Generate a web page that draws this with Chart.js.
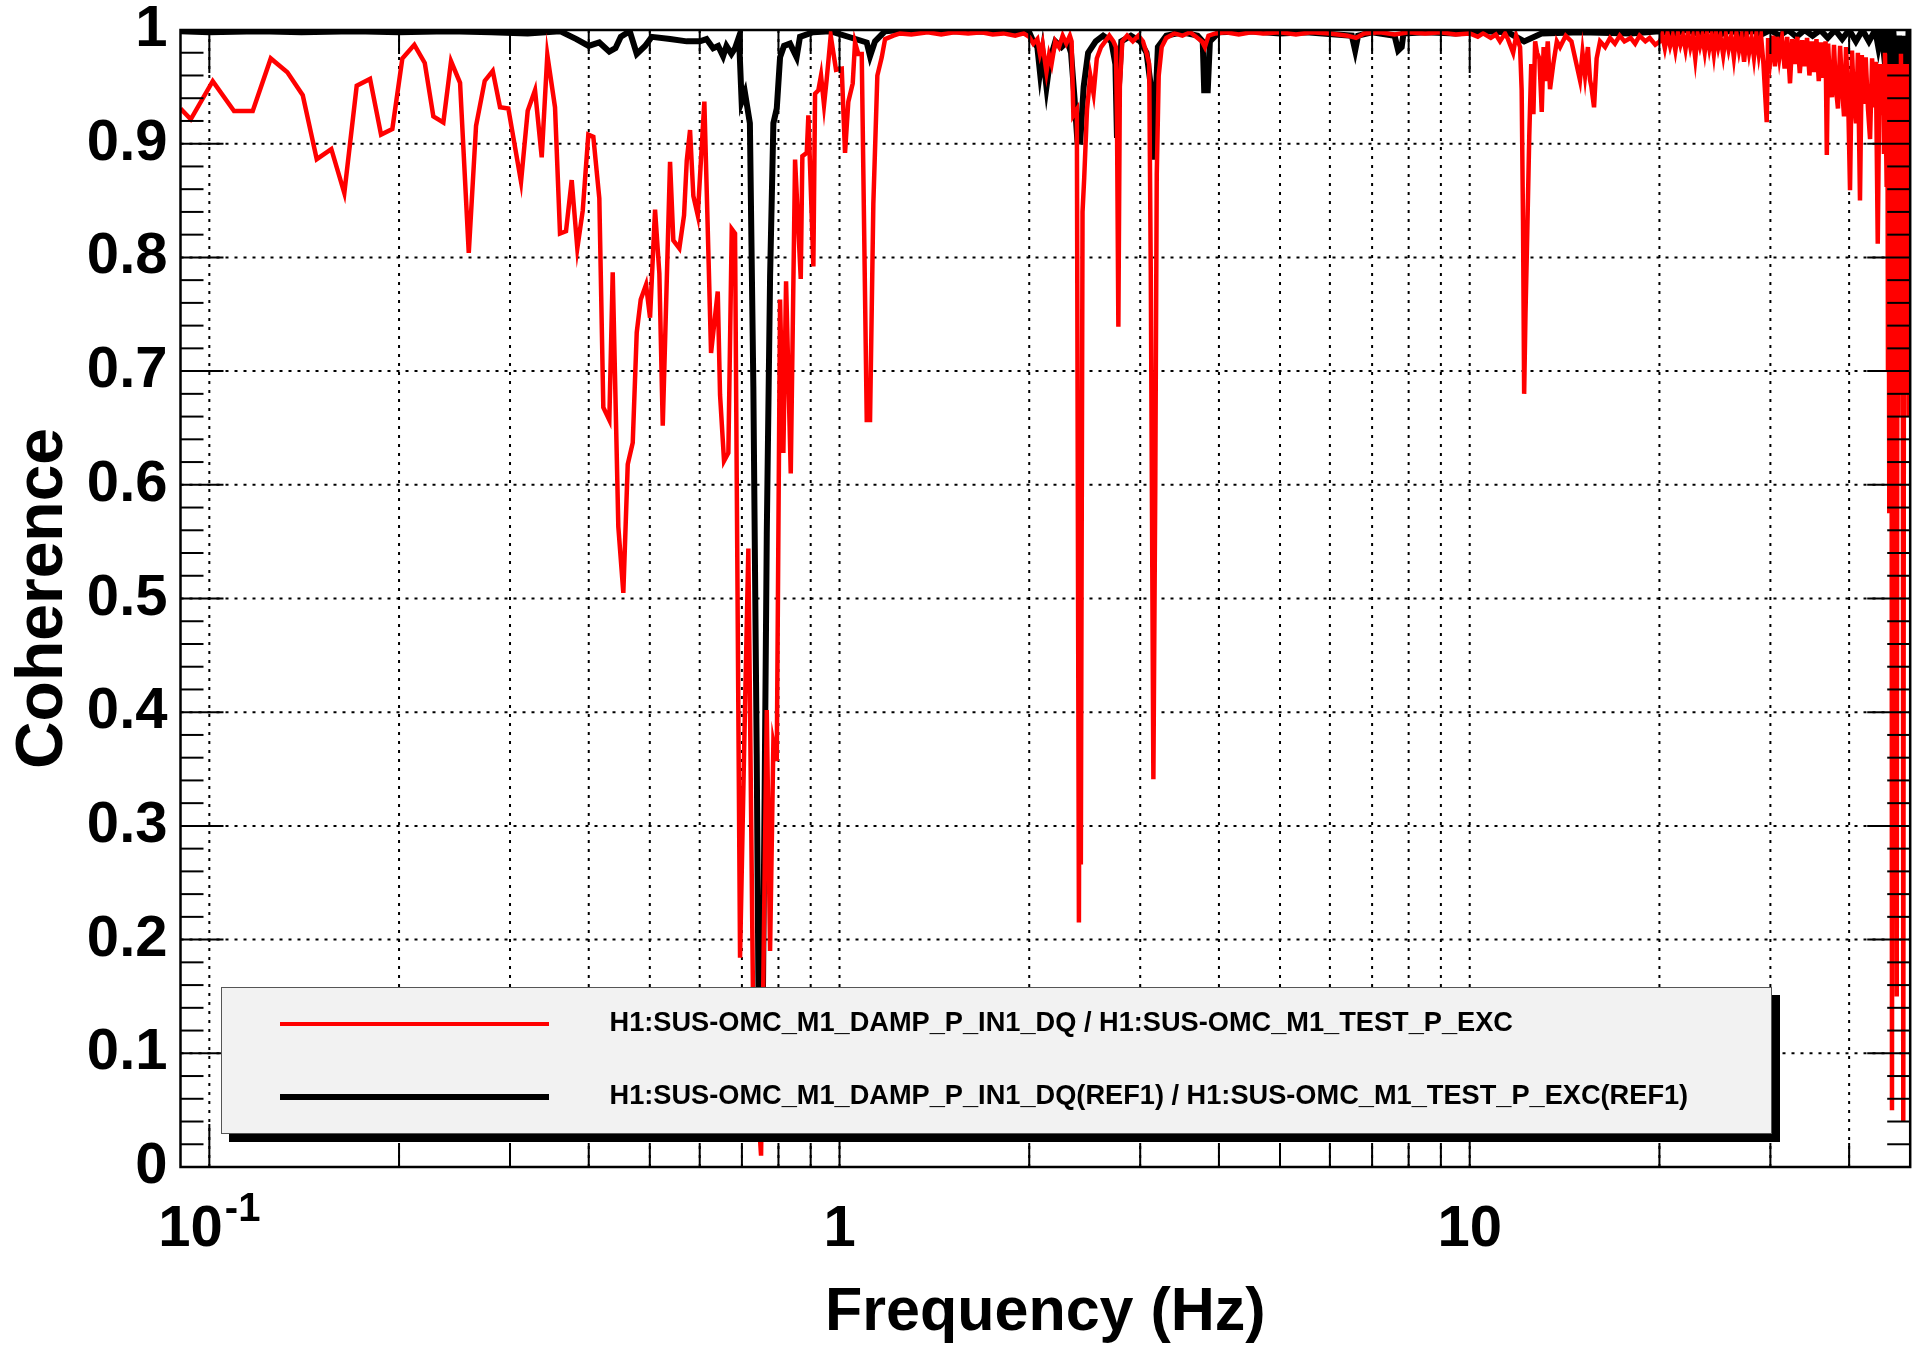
<!DOCTYPE html>
<html>
<head>
<meta charset="utf-8">
<title>Coherence</title>
<script src="https://cdn.jsdelivr.net/npm/chart.js@4.4.1/dist/chart.umd.min.js"></script>
<style>
  html, body { margin: 0; padding: 0; background: #fff; }
  canvas { display: block; }
</style>
</head>
<body>
<canvas id="cohChart" width="1923" height="1346"></canvas>
<script>
// values (frequency in Hz, coherence)
const freqMeas = [
  0.0900, 0.09344, 0.10125, 0.10944, 0.11718, 0.12516, 0.13298, 0.14068, 0.14806, 0.15617,
  0.16376, 0.17134, 0.17989, 0.18728, 0.19517, 0.20243, 0.2115, 0.2197, 0.22671, 0.23515,
  0.24185, 0.24995, 0.25803, 0.265, 0.27353, 0.28165, 0.28925, 0.29816, 0.31232, 0.32005,
  0.32871, 0.33685, 0.34381, 0.35362, 0.36014, 0.36812, 0.37586, 0.38364, 0.39129, 0.39939,
  0.40675, 0.41576, 0.42188, 0.43123, 0.43661, 0.44566, 0.45387, 0.46124, 0.46974, 0.47666,
  0.48367, 0.49314, 0.5004, 0.50965, 0.51772, 0.52418, 0.53836, 0.54488, 0.55696, 0.56661,
  0.57224, 0.57917, 0.5862, 0.5957, 0.61023, 0.62537, 0.64086, 0.64627, 0.65577, 0.66617,
  0.67449, 0.68267, 0.69526, 0.7055, 0.71667, 0.7299, 0.75074, 0.76655, 0.77585, 0.78525,
  0.79507, 0.80472, 0.81446, 0.82255, 0.83678, 0.85006, 0.86794, 0.87303, 0.88718, 0.89239,
  0.90885, 0.9145, 0.9256, 0.93464, 0.94493, 0.95434, 0.96836, 0.9873, 1.0081, 1.0203,
  1.0327, 1.0494, 1.0583, 1.0711, 1.0845, 1.1046, 1.118, 1.1315, 1.1482, 1.1668,
  1.181, 1.2173, 1.2474, 1.3, 1.38, 1.45, 1.52, 1.6, 1.68, 1.75,
  1.82, 1.9, 1.96, 2.0, 2.03, 2.06, 2.08, 2.1, 2.115, 2.13,
  2.15, 2.17, 2.2, 2.23, 2.26, 2.29, 2.32, 2.335, 2.35, 2.38,
  2.398, 2.405, 2.415, 2.43, 2.445, 2.47, 2.5, 2.53, 2.56, 2.6,
  2.64, 2.68, 2.72, 2.745, 2.756, 2.77, 2.785, 2.81, 2.86, 2.92,
  2.98, 3.03, 3.07, 3.1, 3.118, 3.148, 3.17, 3.187, 3.21, 3.245,
  3.3, 3.4, 3.5, 3.6, 3.7, 3.76, 3.8, 3.85, 3.95, 4.1,
  4.3, 4.5, 4.7, 5.0, 5.3, 5.6, 6.0, 6.4, 6.6, 6.8,
  7.2, 7.6, 8.0, 8.5, 9.0, 9.5, 10.0, 10.3, 10.5, 10.8,
  11.0, 11.17, 11.38, 11.5, 11.72, 11.85, 12.02, 12.09, 12.15, 12.2,
  12.26, 12.32, 12.43, 12.52, 12.62, 12.7, 12.79, 12.9, 13.01, 13.1,
  13.17, 13.3, 13.41, 13.57, 13.75, 13.91, 14.2, 14.5, 14.96, 15.1,
  15.24, 15.4, 15.52, 15.6, 15.75, 15.9, 16.1, 16.4, 16.7, 17.0,
  17.3, 17.6, 18.0, 18.3, 18.6, 19.0, 19.3, 19.7, 20.04,
  20.2, 20.4, 20.6, 20.8, 21.0, 21.2, 21.4, 21.6, 21.8, 22.0,
  22.2, 22.4, 22.6, 22.8, 23.0, 23.2, 23.4, 23.6, 23.8, 24.0,
  24.2, 24.4, 24.6, 24.8, 25.0, 25.25, 25.5, 25.75, 26.0, 26.25,
  26.5, 26.75, 27.0, 27.25, 27.5, 27.75, 28.0, 28.25, 28.5, 28.75,
  29.0, 29.25, 29.6, 29.75, 30.0, 30.25, 30.5, 30.75, 31.0, 31.3,
  31.6, 31.9, 32.23, 32.5, 32.8, 33.1, 33.4, 33.7, 34.0, 34.3,
  34.6, 34.9, 35.2, 35.5, 35.8, 36.1, 36.4, 36.7, 36.87, 37.05,
  37.3, 37.57, 37.85, 38.1, 38.4, 38.7, 39.0, 39.26, 39.55, 39.84,
  40.13, 40.42, 40.7, 41.02, 41.3, 41.62, 41.9, 42.2, 42.5, 42.86,
  43.18, 43.5, 43.8, 44.1, 44.41, 44.7, 45.0, 45.3, 45.43, 45.6,
  45.88, 46.0, 46.1, 46.2, 46.32, 46.45, 46.6, 46.7, 46.78, 46.9,
  47.0, 47.1, 47.29, 47.4, 47.6, 47.75, 47.86, 48.0, 48.2, 48.34,
  48.5, 48.65, 48.75, 48.9, 49.05, 49.2, 49.41, 49.55, 49.7, 49.85,
  49.96
];
const cohMeas = [
  0.931, 0.9215, 0.955, 0.9287, 0.9287, 0.975, 0.9628, 0.9427, 0.8864, 0.8953,
  0.8566, 0.951, 0.957, 0.908, 0.913, 0.975, 0.987, 0.971, 0.924, 0.9187,
  0.9725, 0.9535, 0.8039, 0.9158, 0.9552, 0.964, 0.932, 0.931, 0.8666, 0.929,
  0.947, 0.888, 0.978, 0.932, 0.821, 0.823, 0.868, 0.808, 0.841, 0.908,
  0.906, 0.852, 0.668, 0.657, 0.787, 0.563, 0.505, 0.618, 0.637, 0.734,
  0.763, 0.776, 0.747, 0.842, 0.786, 0.652, 0.884, 0.815, 0.808, 0.837,
  0.885, 0.912, 0.854, 0.837, 0.937, 0.716, 0.770, 0.679, 0.621, 0.628,
  0.825, 0.821, 0.184, 0.363, 0.544, 0.12, 0.01, 0.402, 0.19, 0.373,
  0.357, 0.763, 0.628, 0.779, 0.61, 0.886, 0.781, 0.889, 0.892, 0.925,
  0.792, 0.944, 0.947, 0.96, 0.934, 0.957, 0.995, 0.965, 0.966, 0.892,
  0.937, 0.953, 0.989, 0.979, 0.979, 0.657, 0.657, 0.847, 0.96, 0.976,
  0.992, 0.995, 0.997, 0.996, 0.998, 0.996, 0.998, 0.997, 0.998, 0.996,
  0.997, 0.995, 0.997, 0.994, 0.988, 0.992, 0.979, 0.988, 0.975, 0.963,
  0.978, 0.97, 0.99, 0.985, 0.995, 0.988, 0.995, 0.99, 0.925, 0.93,
  0.215, 0.5, 0.266, 0.84, 0.87, 0.93, 0.96, 0.944, 0.975, 0.985,
  0.99, 0.995, 0.99, 0.985, 0.92, 0.739, 0.95, 0.99, 0.995, 0.99,
  0.995, 0.99, 0.98, 0.97, 0.789, 0.341, 0.6, 0.873, 0.96, 0.985,
  0.993, 0.997, 0.995, 0.998, 0.993, 0.99, 0.985, 0.995, 0.997, 0.998,
  0.996, 0.998, 0.997, 0.998, 0.996, 0.998, 0.997, 0.995, 0.993, 0.997,
  0.998, 0.996, 0.998, 0.997, 0.998, 0.996, 0.997, 0.994, 0.997, 0.993,
  0.996, 0.99, 0.997, 0.992, 0.98, 0.995, 0.985, 0.947, 0.832, 0.68,
  0.75, 0.803, 0.906, 0.97, 0.926, 0.99, 0.98, 0.975, 0.928, 0.985,
  0.955, 0.99, 0.948, 0.97, 0.99, 0.985, 0.995, 0.99, 0.956, 0.98,
  0.96, 0.985, 0.956, 0.95, 0.932, 0.975, 0.99, 0.985, 0.993, 0.988,
  0.995, 0.99, 0.993, 0.988, 0.995, 0.99, 0.993, 0.987, 0.99,
  0.996, 0.984, 0.997, 0.986, 0.995, 0.982, 0.997, 0.987, 0.995, 0.983,
  0.998, 0.985, 0.994, 0.975, 0.996, 0.986, 0.995, 0.981, 0.997, 0.984,
  0.995, 0.979, 0.997, 0.985, 0.994, 0.978, 0.996, 0.983, 0.995, 0.976,
  0.997, 0.982, 0.994, 0.972, 0.996, 0.98, 0.993, 0.976, 0.996, 0.979,
  0.994, 0.97, 0.919, 0.993, 0.975, 0.995, 0.968, 0.994, 0.976, 0.993,
  0.966, 0.994, 0.953, 0.992, 0.97, 0.994, 0.962, 0.991, 0.968, 0.993,
  0.96, 0.99, 0.963, 0.992, 0.955, 0.989, 0.958, 0.99, 0.89, 0.988,
  0.952, 0.941, 0.987, 0.95, 0.931, 0.986, 0.948, 0.924, 0.985, 0.945,
  0.859, 0.982, 0.94, 0.918, 0.98, 0.85, 0.978, 0.935, 0.976, 0.93,
  0.904, 0.975, 0.932, 0.972, 0.812, 0.97, 0.925, 0.97, 0.891, 0.98,
  0.862, 0.97, 0.7, 0.97, 0.575, 0.96, 0.72, 0.97, 0.05, 0.95,
  0.7, 0.97, 0.68, 0.96, 0.15, 0.97, 0.66, 0.95, 0.7, 0.98,
  0.68, 0.96, 0.04, 0.97, 0.69, 0.95, 0.68, 0.97, 0.66, 0.96,
  0.68
];

const freqRef = [
  0.09, 0.1, 0.12, 0.14, 0.17, 0.2, 0.24, 0.28, 0.32, 0.3601,
  0.3823, 0.3999, 0.4157, 0.4312, 0.441, 0.4497, 0.4646, 0.4767, 0.4914, 0.5036,
  0.5384, 0.5722, 0.6004, 0.6151, 0.6302, 0.6418, 0.6535, 0.6616, 0.6737, 0.6827,
  0.6926, 0.6993, 0.7078, 0.7207, 0.7299, 0.7389, 0.7458, 0.7535, 0.7572, 0.7666,
  0.7759, 0.7853, 0.7951, 0.8047, 0.8164, 0.8345, 0.8549, 0.8655, 0.9078, 0.9659,
  1.1046, 1.118, 1.1385, 1.181, 1.25, 1.5, 2.0, 2.03, 2.06, 2.08,
  2.1, 2.13, 2.16, 2.2, 2.25, 2.3, 2.33, 2.36, 2.385, 2.41,
  2.44, 2.48, 2.55, 2.62, 2.7, 2.74, 2.756, 2.775, 2.8, 2.9,
  3.0, 3.07, 3.12, 3.148, 3.17, 3.2, 3.3, 3.5, 3.7, 3.77,
  3.79, 3.84, 3.87, 4.0, 4.5, 5.0, 5.5, 6.5, 6.58, 6.65,
  7.0, 7.6, 7.7, 7.8, 7.85, 8.5, 9.5, 10.5, 11.5, 12.2,
  13.0, 15.0, 18.0,
  20, 21, 22, 23, 24, 25, 26, 27, 28, 29,
  30, 31, 32, 33, 34, 35, 36, 37, 38, 39,
  40, 41, 42, 43, 44, 44.5, 45, 45.5, 46, 46.5,
  47, 47.5, 48, 48.5, 48.75, 49, 49.4, 49.7, 50
];
const cohRef = [
  0.999, 0.998, 0.999, 0.998, 0.999, 0.998, 0.999, 0.998, 0.997, 0.999,
  0.992, 0.986, 0.989, 0.981, 0.984, 0.994, 0.999, 0.979, 0.986, 0.994,
  0.992, 0.990, 0.990, 0.992, 0.984, 0.986, 0.977, 0.986, 0.979, 0.984,
  0.994, 0.937, 0.945, 0.918, 0.686, 0.363, 0.06, 0.06, 0.2, 0.557,
  0.783, 0.918, 0.931, 0.976, 0.986, 0.988, 0.976, 0.994, 0.998, 0.999,
  0.989, 0.977, 0.99, 0.999, 1.0, 0.999, 0.998, 0.99, 0.985, 0.963,
  0.98, 0.95, 0.975, 0.99, 0.985, 0.99, 0.98, 0.94, 0.902, 0.902,
  0.95, 0.98, 0.99, 0.995, 0.99, 0.97, 0.905, 0.95, 0.99, 0.995,
  0.99, 0.98, 0.95, 0.886, 0.93, 0.985, 0.995, 0.998, 0.995, 0.99,
  0.947, 0.947, 0.99, 0.998, 0.999, 0.997, 0.998, 0.995, 0.982, 0.995,
  0.998, 0.995, 0.982, 0.985, 0.997, 0.998, 0.997, 0.999, 0.998, 0.99,
  0.997, 0.998, 0.997,
  0.999, 0.996, 1.0, 0.997, 1.0, 0.996, 1.0, 0.995, 1.0, 0.996,
  1.0, 0.995, 1.0, 0.994, 1.0, 0.995, 1.0, 0.993, 1.0, 0.992,
  1.0, 0.99, 1.0, 0.99, 1.0, 0.985, 1.0, 0.975, 1.0, 0.965,
  1.0, 0.96, 0.995, 0.97, 0.882, 0.995, 0.93, 1.0, 0.97
];

const seriesNames = [
  'H1:SUS-OMC_M1_DAMP_P_IN1_DQ / H1:SUS-OMC_M1_TEST_P_EXC',
  'H1:SUS-OMC_M1_DAMP_P_IN1_DQ(REF1) / H1:SUS-OMC_M1_TEST_P_EXC(REF1)'
];
const seriesColors = ['#ff0000', '#000000'];

const yTicks = [0, 0.1, 0.2, 0.3, 0.4, 0.5, 0.6, 0.7, 0.8, 0.9, 1];
const xGrid = [0.1, 0.2, 0.3, 0.4, 0.5, 0.6, 0.7, 0.8, 0.9, 1, 2, 3, 4, 5, 6, 7, 8, 9, 10, 20, 30, 40];
const xDecades = [0.1, 1, 10];
const xLabels = [
  { value: 0.1, base: '10', exp: '-1' },
  { value: 1, base: '1', exp: '' },
  { value: 10, base: '10', exp: '' }
];

const FONT = '"Liberation Sans", Arial, Helvetica, sans-serif';

function toPoints(xs, ys) {
  return xs.map((f, i) => ({ x: f, y: ys[i] }));
}

function line(ctx, x1, y1, x2, y2) {
  ctx.beginPath();
  ctx.moveTo(x1, y1);
  ctx.lineTo(x2, y2);
  ctx.stroke();
}

// ROOT-like frame: dotted grid, inward ticks, superscript labels, shadowed legend
const rootFrame = {
  id: 'rootFrame',
  beforeDatasetsDraw(chart) {
    const { ctx, chartArea: a, scales: { x, y } } = chart;
    ctx.save();
    ctx.strokeStyle = '#000';
    ctx.lineWidth = 2;
    ctx.setLineDash([3, 6]);
    xGrid.forEach(v => {
      const px = x.getPixelForValue(v);
      line(ctx, px, a.top, px, a.bottom);
    });
    yTicks.slice(1, -1).forEach(v => {
      const py = y.getPixelForValue(v);
      line(ctx, a.left, py, a.right, py);
    });
    ctx.restore();
  },
  afterDatasetsDraw(chart) {
    const { ctx, chartArea: a, scales: { x, y } } = chart;
    ctx.save();
    ctx.strokeStyle = '#000';
    ctx.lineWidth = 2;

    // y ticks, both sides
    for (let i = 0; i <= 50; i++) {
      const v = i / 50;
      const py = y.getPixelForValue(v);
      const len = i % 5 === 0 ? 43 : 23;
      line(ctx, a.left, py, a.left + len, py);
      line(ctx, a.right - len, py, a.right, py);
    }
    // x ticks, bottom and top
    xGrid.forEach(v => {
      const px = x.getPixelForValue(v);
      const len = xDecades.includes(v) ? 43 : 24;
      line(ctx, px, a.bottom, px, a.bottom - len);
      line(ctx, px, a.top, px, a.top + len);
    });

    // frame
    ctx.lineWidth = 2.5;
    ctx.strokeRect(a.left, a.top, a.right - a.left, a.bottom - a.top);

    // x tick labels
    ctx.fillStyle = '#000';
    ctx.textBaseline = 'alphabetic';
    ctx.textAlign = 'left';
    xLabels.forEach(l => {
      const px = x.getPixelForValue(l.value);
      ctx.font = 'bold 58px ' + FONT;
      const wb = ctx.measureText(l.base).width;
      ctx.font = 'bold 40px ' + FONT;
      const we = l.exp ? ctx.measureText(l.exp).width + 2 : 0;
      const start = px - (wb + we) / 2;
      ctx.font = 'bold 58px ' + FONT;
      ctx.fillText(l.base, start, 1246);
      if (l.exp) {
        ctx.font = 'bold 40px ' + FONT;
        ctx.fillText(l.exp, start + wb + 2, 1221);
      }
    });

    // legend
    const lx = 221, ly = 987, lw = 1551, lh = 147;
    ctx.fillStyle = '#000';
    ctx.fillRect(lx + 8, ly + 8, lw, lh);
    ctx.fillStyle = '#f2f2f2';
    ctx.fillRect(lx, ly, lw, lh);
    ctx.lineWidth = 1;
    ctx.strokeStyle = '#555';
    ctx.strokeRect(lx + 0.5, ly + 0.5, lw - 1, lh - 1);

    const rows = [1024, 1097];
    const widths = [4, 6];
    ctx.font = 'bold 27.2px ' + FONT;
    ctx.textBaseline = 'middle';
    seriesNames.forEach((name, i) => {
      ctx.strokeStyle = seriesColors[i];
      ctx.lineWidth = widths[i];
      line(ctx, 280, rows[i], 549, rows[i]);
      ctx.fillStyle = '#000';
      ctx.fillText(name, 609.5, rows[i]);
    });
    ctx.restore();
  }
};

const ctx = document.getElementById('cohChart').getContext('2d');
const cohChart = new Chart(ctx, {
  type: 'line',
  data: {
    datasets: [
      {
        label: seriesNames[0],
        data: toPoints(freqMeas, cohMeas),
        borderColor: seriesColors[0],
        borderWidth: 4.5,
        pointRadius: 0,
        tension: 0
      },
      {
        label: seriesNames[1],
        data: toPoints(freqRef, cohRef),
        borderColor: seriesColors[1],
        borderWidth: 6,
        pointRadius: 0,
        tension: 0
      }
    ]
  },
  options: {
    responsive: false,
    animation: false,
    devicePixelRatio: 1,
    layout: { padding: { left: 0, top: 30, right: 12.8, bottom: 0 } },
    plugins: {
      legend: { display: false },
      tooltip: { enabled: false }
    },
    scales: {
      x: {
        type: 'logarithmic',
        min: 0.09,
        max: 50,
        grid: { display: false, drawTicks: false },
        border: { display: false },
        ticks: { display: false },
        title: {
          display: true,
          text: 'Frequency (Hz)',
          color: '#000',
          font: { family: FONT, size: 61, weight: 'bold', lineHeight: 1 },
          padding: { top: 0, bottom: 2 }
        },
        afterFit: s => { s.height = 179; s.paddingLeft = 0; s.paddingRight = 0; }
      },
      y: {
        min: 0,
        max: 1,
        grid: { display: false, drawTicks: false },
        border: { display: false },
        afterBuildTicks: s => { s.ticks = yTicks.map(v => ({ value: v })); },
        ticks: {
          color: '#000',
          padding: 13,
          font: { family: FONT, size: 58, weight: 'bold' },
          callback: v => (v === 0 || v === 1) ? String(v) : v.toFixed(1)
        },
        title: {
          display: true,
          text: 'Coherence',
          color: '#000',
          font: { family: FONT, size: 66, weight: 'bold', lineHeight: 1 },
          padding: { top: 11, bottom: 0 }
        },
        afterFit: s => { s.width = 180.5; s.paddingTop = 0; s.paddingBottom = 0; }
      }
    }
  },
  plugins: [rootFrame]
});
</script>
</body>
</html>
